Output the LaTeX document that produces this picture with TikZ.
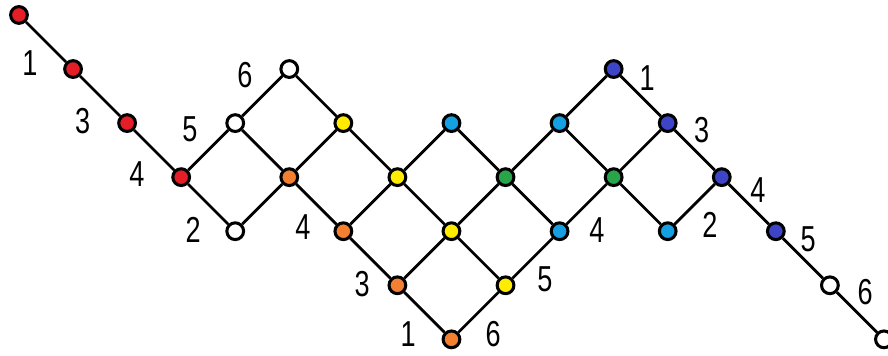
\documentclass[tikz,border=0pt]{standalone}
\usepackage{fontspec}
\newfontfamily\lblfont[FakeStretch=0.75]{Liberation Sans}
\usetikzlibrary{positioning}
\definecolor{vred}{RGB}{228,30,38}
\definecolor{vorange}{RGB}{242,128,48}
\definecolor{vyellow}{RGB}{255,236,0}
\definecolor{vcyan}{RGB}{20,160,225}
\definecolor{vgreen}{RGB}{40,165,75}
\definecolor{vblue}{RGB}{62,68,200}

\begin{document}
\begin{tikzpicture}[
  vt/.style={circle, draw=black, line width=1.6pt, minimum size=0.31cm,
    inner sep=0pt, fill=white},
  rv/.style={vt, fill=vred},
  ov/.style={vt, fill=vorange},
  yv/.style={vt, fill=vyellow},
  cv/.style={vt, fill=vcyan},
  gv/.style={vt, fill=vgreen},
  bv/.style={vt, fill=vblue},
  lbl/.style={font=\lblfont\fontsize{19}{21}\selectfont, inner sep=0pt},
  ed/.style={line width=1.45pt, black},
]
  \useasboundingbox (-0.351,0.277) rectangle (16.075,-6.295);

  % left chain
  \node[rv] (r0) at (0,0) {};
  \node[rv] (r1) at (1,-1) {};
  \node[rv] (r2) at (2,-2) {};
  \node[rv] (r3) at (3,-3) {};
  \node[vt] (wa) at (4,-2) {};
  \node[vt] (wb) at (5,-1) {};
  \node[vt] (wc) at (4,-4) {};

  % middle lattice
  \node[ov] (o1) at (5,-3) {};
  \node[ov] (o2) at (6,-4) {};
  \node[ov] (o3) at (7,-5) {};
  \node[ov] (o4) at (8,-6) {};
  \node[yv] (y1) at (6,-2) {};
  \node[yv] (y2) at (7,-3) {};
  \node[yv] (y3) at (8,-4) {};
  \node[yv] (y4) at (9,-5) {};
  \node[cv] (c1) at (8,-2) {};
  \node[gv] (g1) at (9,-3) {};
  \node[cv] (c2) at (10,-4) {};
  \node[cv] (c3) at (10,-2) {};
  \node[gv] (g2) at (11,-3) {};
  \node[cv] (c4) at (12,-4) {};

  % right chain
  \node[bv] (b1) at (11,-1) {};
  \node[bv] (b2) at (12,-2) {};
  \node[bv] (b3) at (13,-3) {};
  \node[bv] (b4) at (14,-4) {};
  \node[vt] (wd) at (15,-5) {};
  \node[vt] (we) at (16,-6) {};

  % edges
  \draw[ed] (r0) -- (r1) -- (r2) -- (r3);
  \draw[ed] (r3) -- (wa) -- (wb) -- (y1) -- (y2) -- (y3) -- (y4) -- (c2) -- (g2) -- (c4) -- (b3);
  \draw[ed] (r3) -- (wc) -- (o1) -- (o2) -- (o3) -- (o4) -- (y4);
  \draw[ed] (wa) -- (o1) -- (y1);
  \draw[ed] (o2) -- (y2) -- (c1) -- (g1) -- (c3) -- (b1) -- (b2) -- (b3) -- (b4) -- (wd) -- (we);
  \draw[ed] (o3) -- (y3) -- (g1) -- (c2);
  \draw[ed] (c3) -- (g2) -- (b2);

  % labels
  \node[lbl] (la1) at (0.20,-0.89) {1};
  \node[lbl] (la3) at (1.18,-1.97) {3};
  \node[lbl] (la4) at (2.18,-2.95) {4};
  \node[lbl] (la5) at (3.16,-2.12) {5};
  \node[lbl] (la6) at (4.18,-1.11) {6};
  \node[lbl] (la2) at (3.22,-3.97) {2};
  \node[lbl] (lm4) at (5.25,-3.93) {4};
  \node[lbl] (lm3) at (6.35,-4.98) {3};
  \node[lbl] (lm1) at (7.20,-5.91) {1};
  \node[lbl] (lm6) at (8.77,-5.91) {6};
  \node[lbl] (lm5) at (9.73,-4.89) {5};
  \node[lbl] (ln4) at (10.69,-3.97) {4};
  \node[lbl] (lb1) at (11.62,-1.16) {1};
  \node[lbl] (lb3) at (12.63,-2.12) {3};
  \node[lbl] (lb2) at (12.78,-3.88) {2};
  \node[lbl] (lb4) at (13.67,-3.23) {4};
  \node[lbl] (lb5) at (14.60,-4.15) {5};
  \node[lbl] (lb6) at (15.65,-5.13) {6};
\end{tikzpicture}
\end{document}
